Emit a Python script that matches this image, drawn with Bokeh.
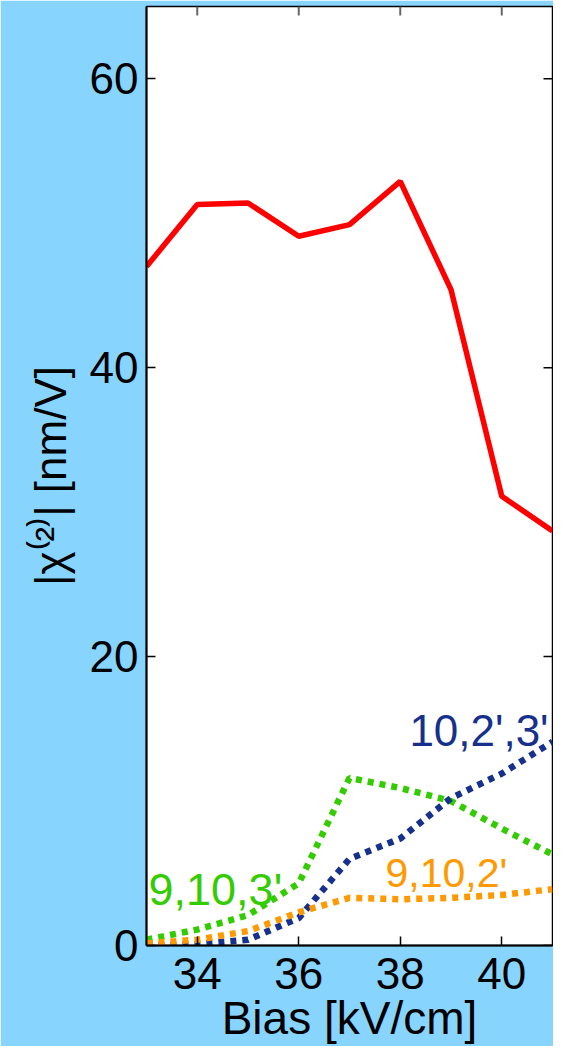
import math
from bokeh.plotting import figure
from bokeh.models import FixedTicker, Range1d, Label
from bokeh.embed import file_html
from bokeh.resources import INLINE

bias = [33, 34, 35, 36, 37, 38, 39, 40, 41]
chi_total = [47.0, 51.3, 51.4, 49.1, 49.9, 52.9, 45.4, 31.1, 28.7]
chi_9_10_3 = [0.4, 1.1, 2.1, 4.3, 11.6, 10.9, 10.0, 8.1, 6.3]
chi_10_2_3 = [0.0, 0.1, 0.4, 1.9, 6.0, 7.4, 10.2, 11.9, 14.1]
chi_9_10_2 = [0.15, 0.4, 1.0, 2.3, 3.3, 3.2, 3.3, 3.5, 3.9]

x_min, x_max = 33, 41
y_min, y_max = 0, 65
x_ticks = [34, 36, 38, 40]
y_ticks = [0, 20, 40, 60]

label_texts = ["9,10,3'", "10,2',3'", "9,10,2'"]
label_x = [33.04, 38.18, 37.71]
label_y = [3.9, 14.9, 5.0]
label_colors = ["#33CC00", "#17308C", "#FF9900"]
label_sizes = ["45px", "44px", "41px"]

FONT = "Liberation Sans"
BG = "#87D4FF"

p = figure(width=553, height=1046, output_backend="svg", toolbar_location=None,
           x_range=Range1d(x_min, x_max), y_range=Range1d(y_min, y_max),
           x_axis_label="Bias [kV/cm]", y_axis_label="|χ⁽²⁾| [nm/V]",
           min_border_left=146, min_border_right=1, min_border_top=6, min_border_bottom=0)
p.background_fill_color = "white"
p.border_fill_color = BG
p.outline_line_color = "black"
p.outline_line_width = 1.5
p.grid.visible = False

for ax in (p.xaxis[0], p.yaxis[0]):
    ax.major_tick_in = 9
    ax.major_tick_out = 0
    ax.minor_tick_in = 0
    ax.minor_tick_out = 0
    ax.axis_line_width = 2
    ax.axis_line_color = "black"
    ax.major_tick_line_color = "black"
    ax.major_tick_line_width = 1.5
    ax.major_label_text_font = FONT
    ax.major_label_text_font_size = "44px"
    ax.major_label_text_color = "black"
    ax.axis_label_text_font = FONT
    ax.axis_label_text_font_style = "normal"
    ax.axis_label_text_color = "black"

p.xaxis.ticker = FixedTicker(ticks=x_ticks)
p.yaxis.ticker = FixedTicker(ticks=y_ticks)
p.xaxis.major_label_standoff = 12
p.xaxis.axis_label_standoff = 0
p.xaxis.axis_label_text_font_size = "46px"
p.yaxis.major_label_standoff = 8
p.yaxis.axis_label_standoff = 12
p.yaxis.axis_label_text_font_size = "44px"

# inward ticks on the top and right edges of the box
p.ray(x=x_ticks, y=[y_max] * len(x_ticks), length=9, angle=-math.pi / 2,
      length_units="screen", line_color="#666666", line_width=2)
p.ray(x=[x_max] * len(y_ticks), y=y_ticks, length=9, angle=math.pi,
      length_units="screen", line_color="black", line_width=1.5)

p.line(bias, chi_total, line_color="#FF0000", line_width=5.5)
p.line(bias, chi_9_10_3, line_color=label_colors[0], line_width=6.5, line_dash="6 6")
p.line(bias, chi_10_2_3, line_color=label_colors[1], line_width=6.5, line_dash="6 6")
p.line(bias, chi_9_10_2, line_color=label_colors[2], line_width=6.5, line_dash="6 6")

for t, lx, ly, c, s in zip(label_texts, label_x, label_y, label_colors, label_sizes):
    p.add_layout(Label(x=lx, y=ly, text=t, text_color=c, text_font=FONT,
                       text_font_size=s, text_baseline="alphabetic", text_align="left"))

open("out.html", "w").write(file_html(p, INLINE))
